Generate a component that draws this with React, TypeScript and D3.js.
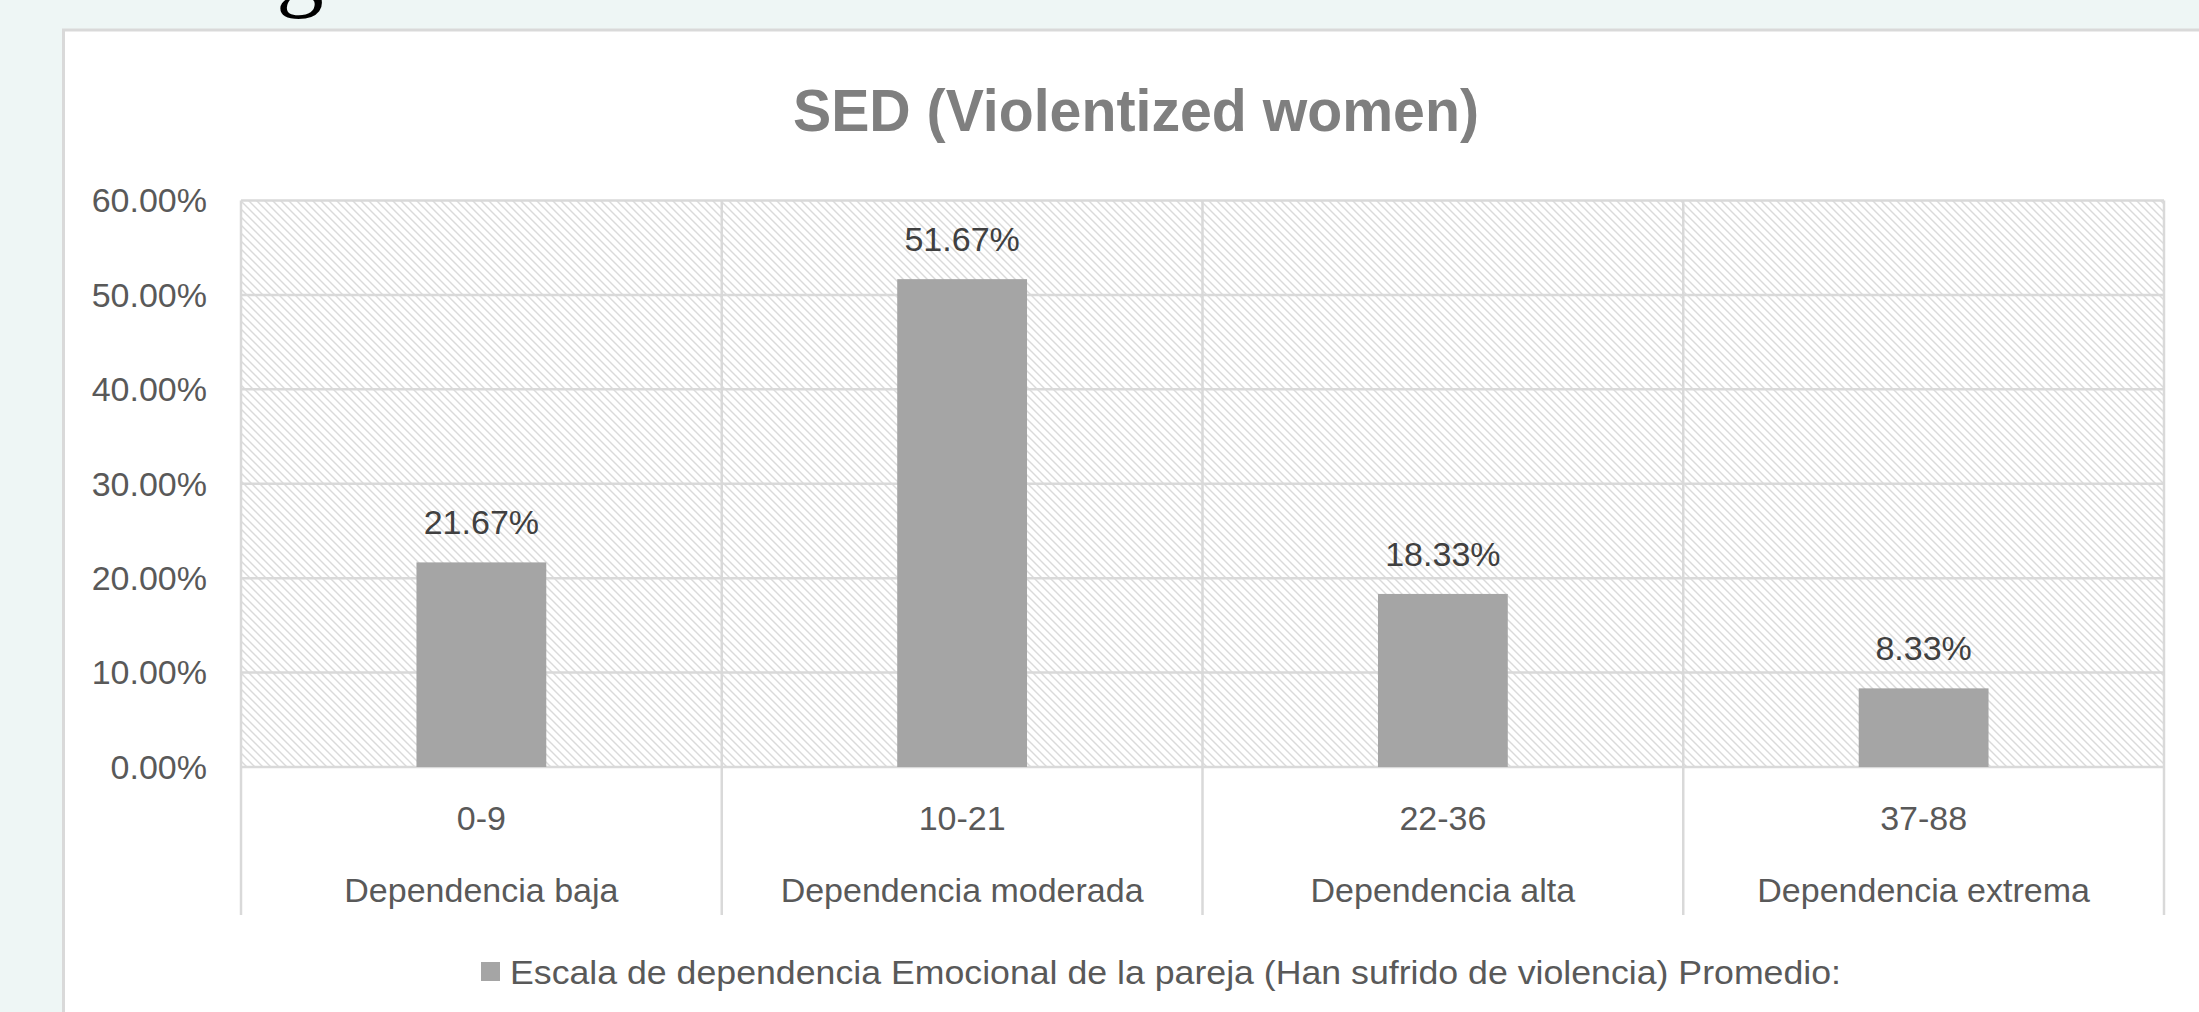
import React from "react";
import * as d3 from "d3";

const chartTitle = "SED (Violentized women)";
const scoreRanges = ["0-9", "10-21", "22-36", "37-88"];
const levelNames = ["Dependencia baja", "Dependencia moderada", "Dependencia alta", "Dependencia extrema"];
const seriesValues = [0.2167, 0.5167, 0.1833, 0.0833];
const yTickValues = [0, 0.1, 0.2, 0.3, 0.4, 0.5, 0.6];
const legendLabel = "Escala de dependencia Emocional de la pareja (Han sufrido de violencia) Promedio:";

const W = 2199;
const H = 1012;
const FONT = "'Liberation Sans', Arial, sans-serif";

export default function App() {
  const plotLeft = 241;
  const plotRight = 2164;
  const plotTop = 200.5;
  const plotBottom = 767;
  const catBottom = 915;

  const x = d3
    .scaleBand<number>()
    .domain(d3.range(scoreRanges.length))
    .range([plotLeft, plotRight])
    .paddingInner(0)
    .paddingOuter(0);
  const y = d3.scaleLinear().domain([0, 0.6]).range([plotBottom, plotTop]);
  const fmt = d3.format(".2%");
  const bw = x.bandwidth();
  const barW = bw * 0.27;
  const edges = d3.range(scoreRanges.length + 1).map((i) => plotLeft + i * bw);

  return (
    <svg
      width={W}
      height={H}
      style={{ position: "absolute", left: 0, top: 0, display: "block" }}
      fontFamily={FONT}
    >
      <defs>
        <pattern id="hatch" patternUnits="userSpaceOnUse" width={8} height={8}>
          <rect width={8} height={8} fill="#ffffff" />
          <path d="M-2,-2 L10,10 M-2,6 L2,10 M6,-2 L10,2" stroke="#dadada" strokeWidth={1.4} />
        </pattern>
      </defs>
      <rect x={0} y={0} width={W} height={H} fill="#eef6f5" />
      <text x={300} y={-1} fontFamily="'Liberation Serif', 'DejaVu Serif', serif" fontSize={95} textAnchor="middle" fill="#000">
        g
      </text>
      <rect x={63.5} y={30} width={2200} height={1100} fill="#ffffff" stroke="#d9d9d9" strokeWidth={3} />

      <text
        x={1136}
        y={131}
        fontSize={60}
        fontWeight="bold"
        fill="#7f7f7f"
        textAnchor="middle"
        textLength={686}
        lengthAdjust="spacingAndGlyphs"
      >
        {chartTitle}
      </text>

      <rect x={plotLeft} y={plotTop} width={plotRight - plotLeft} height={plotBottom - plotTop} fill="url(#hatch)" />

      {yTickValues.map((t) => (
        <g key={t}>
          <line x1={plotLeft} x2={plotRight} y1={y(t)} y2={y(t)} stroke="#d9d9d9" strokeWidth={2.5} />
          <text x={207} y={y(t)} dy="0.35em" fontSize={34} fill="#595959" textAnchor="end">
            {fmt(t)}
          </text>
        </g>
      ))}

      {edges.map((ex, i) => (
        <line key={i} x1={ex} x2={ex} y1={plotTop} y2={catBottom} stroke="#d9d9d9" strokeWidth={2.5} />
      ))}

      {seriesValues.map((v, i) => {
        const cx = (x(i) as number) + bw / 2;
        return (
          <g key={i}>
            <rect x={cx - barW / 2} y={y(v)} width={barW} height={plotBottom - y(v)} fill="#a5a5a5" />
            <text x={cx} y={y(v) - 28} fontSize={34} fill="#404040" textAnchor="middle">
              {fmt(v)}
            </text>
            <text x={cx} y={818} dy="0.35em" fontSize={34} fill="#595959" textAnchor="middle">
              {scoreRanges[i]}
            </text>
            <text x={cx} y={890} dy="0.35em" fontSize={34} fill="#595959" textAnchor="middle">
              {levelNames[i]}
            </text>
          </g>
        );
      })}

      <rect x={481} y={962} width={19} height={19} fill="#a5a5a5" />
      <text x={510} y={972} dy="0.35em" fontSize={34} fill="#595959" textLength={1331} lengthAdjust="spacingAndGlyphs">
        {legendLabel}
      </text>
    </svg>
  );
}
